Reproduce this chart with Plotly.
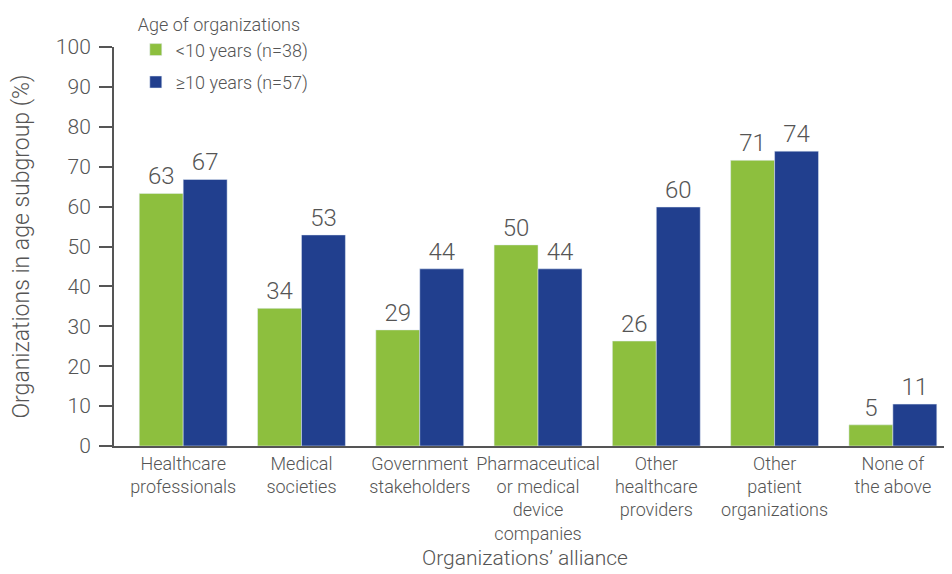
import plotly.graph_objects as go

categories = ["Healthcare<br>professionals", "Medical<br>societies", "Government<br>stakeholders",
              "Pharmaceutical<br>or medical<br>device<br>companies", "Other<br>healthcare<br>providers",
              "Other<br>patient<br>organizations", "None of<br>the above"]
young_values = [63.3, 34.5, 29.1, 50.4, 26.3, 71.6, 5.3]
young_labels = ["63", "34", "29", "50", "26", "71", "5"]
old_values = [66.8, 52.9, 44.4, 44.4, 59.9, 73.9, 10.5]
old_labels = ["67", "53", "44", "44", "60", "74", "11"]
y_ticks = [0, 10, 20, 30, 40, 50, 60, 70, 80, 90, 100]

GREEN = "#8DBF3E"
BLUE = "#213F8E"
GREY = "#555555"
FONT = "Roboto, Liberation Sans, Arial, sans-serif"
W = 300  # light weight, like the original

fig = go.Figure()
fig.add_trace(go.Bar(x=categories, y=young_values, name="<10 years (n=38)", marker_color=GREEN,
                     legendgroup="a", text=young_labels, textposition="outside", cliponaxis=False,
                     textfont=dict(size=24, color=GREY, weight=W)))
fig.add_trace(go.Bar(x=categories, y=old_values, name="≥10 years (n=57)", marker_color=BLUE,
                     legendgroup="b", text=old_labels, textposition="outside", cliponaxis=False,
                     textfont=dict(size=24, color=GREY, weight=W)))

# page body has an 8px margin, so the figure is drawn 8px in from the top-left
fig.update_layout(
    width=944, height=566,
    margin=dict(l=106, r=0, t=39, b=128),
    plot_bgcolor="white", paper_bgcolor="white",
    font=dict(family=FONT, color=GREY, size=17, weight=W),
    barmode="group", bargap=0.257, bargroupgap=0,
    legend=dict(title=dict(text="Age of organizations", font=dict(size=18, color=GREY, weight=W)),
                x=0.026, y=1.098, xanchor="left", yanchor="top",
                font=dict(size=18, color=GREY, weight=W), itemwidth=30, tracegroupgap=6,
                bgcolor="rgba(0,0,0,0)"),
    xaxis=dict(range=[-0.585, 6.5], showline=True, linecolor=GREY, linewidth=2,
               ticks="", tickfont=dict(size=18, color=GREY, weight=W)),
    yaxis=dict(range=[0, 100], tickvals=y_ticks, showline=True, linecolor=GREY, linewidth=2,
               ticks="outside", ticklen=13, tickwidth=2, tickcolor=GREY, showgrid=False,
               zeroline=False, tickfont=dict(size=21, color=GREY, weight=W), ticklabelstandoff=4,
               title=dict(text="Organizations in age subgroup (%)",
                          font=dict(size=23, color=GREY, weight=W), standoff=20)),
    annotations=[dict(text="Organizations’ alliance", xref="paper", yref="paper", x=0.49, y=-0.28,
                      xanchor="center", yanchor="middle", showarrow=False,
                      font=dict(size=21, color=GREY, weight=W))],
)

fig.write_html("out.html")
